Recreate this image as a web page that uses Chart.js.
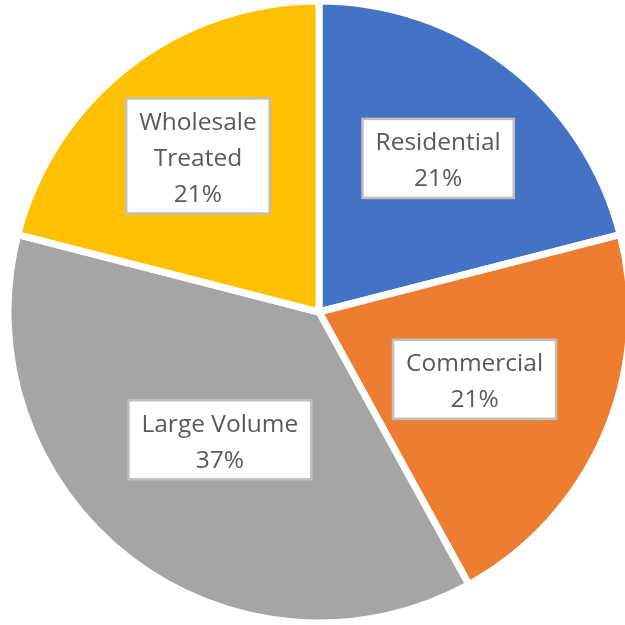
<!DOCTYPE html>
<html>
<head>
<meta charset="utf-8">
<script src="https://cdn.jsdelivr.net/npm/chart.js@4"></script>
<style>
    html, body { margin: 0; padding: 0; background: #fff; }
    #wrap { width: 625px; height: 625px; }
</style>
</head>
<body>
<div id="wrap"><canvas id="pieChart" width="625" height="625"></canvas></div>
<script>
const categories = ['Residential', 'Commercial', 'Large Volume', 'Wholesale Treated'];
const labelLines = [['Residential'], ['Commercial'], ['Large Volume'], ['Wholesale', 'Treated']];
const shares = [21, 21, 37, 21];
const colors = ['#4472C4', '#ED7D31', '#A5A5A5', '#FFC000'];

// how far out along each slice the label box sits (fraction of radius)
const labelRadius = [0.625, 0.545, 0.52, 0.635];


const boxLabels = {
    id: 'boxLabels',
    afterDatasetsDraw(chart) {
        const ctx = chart.ctx;
        const meta = chart.getDatasetMeta(0);
        const data = chart.data.datasets[0].data;
        const total = data.reduce((a, b) => a + b, 0);

        ctx.save();
        ctx.font = "24.5px 'Open Sans', Lato, sans-serif";
        ctx.textAlign = 'center';
        ctx.textBaseline = 'middle';

        meta.data.forEach((arc, i) => {
            const { x, y, startAngle, endAngle, outerRadius } = arc.getProps(['x', 'y', 'startAngle', 'endAngle', 'outerRadius'], true);
            const mid = (startAngle + endAngle) / 2;
            const r = outerRadius * labelRadius[i];
            const cx = x + Math.cos(mid) * r;
            const cy = y + Math.sin(mid) * r;

            const lines = labelLines[i].concat([Math.round(data[i] / total * 100) + '%']);
            const lineH = 36;
            const textW = Math.max(...lines.map(l => ctx.measureText(l).width));
            const w = textW + 26;
            const h = lines.length * lineH + 7;

            ctx.fillStyle = '#ffffff';
            ctx.fillRect(cx - w / 2, cy - h / 2, w, h);
            ctx.strokeStyle = '#BFBFBF';
            ctx.lineWidth = 2.5;
            ctx.strokeRect(cx - w / 2, cy - h / 2, w, h);

            ctx.fillStyle = '#595959';
            lines.forEach((line, j) => {
                ctx.fillText(line, cx, cy - (lines.length - 1) * lineH / 2 + j * lineH + 3);
            });
        });
        ctx.restore();
    }
};


const ctx = document.getElementById('pieChart').getContext('2d');

const chart = new Chart(ctx, {
    type: 'pie',
    data: {
        labels: categories,
        datasets: [{
            data: shares,
            backgroundColor: colors,
            borderColor: '#ffffff',
            borderWidth: 7
        }]
    },
    options: {
        responsive: false,
        animation: false,
        radius: 311,
        layout: {
            padding: { left: 13, right: 0, top: 0, bottom: 1 }
        },
        plugins: {
            legend: { display: false },
            tooltip: { enabled: false }
        }
    },
    plugins: [boxLabels]
});
</script>
</body>
</html>
